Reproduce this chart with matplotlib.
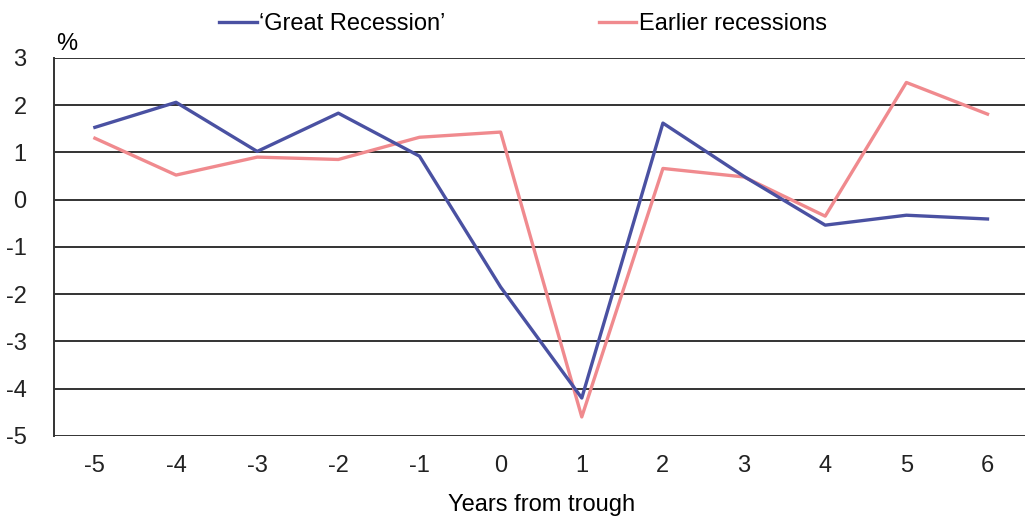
import matplotlib.pyplot as plt
import numpy as np

plt.rcParams['font.family'] = ['Liberation Sans', 'DejaVu Sans']
plt.rcParams['axes.unicode_minus'] = False

years = [-5, -4, -3, -2, -1, 0, 1, 2, 3, 4, 5, 6]
great = [1.53, 2.06, 1.02, 1.83, 0.92, -1.85, -4.2, 1.62, 0.49, -0.54, -0.33, -0.41]
earlier = [1.3, 0.52, 0.9, 0.85, 1.32, 1.43, -4.6, 0.66, 0.48, -0.35, 2.48, 1.81]

fig = plt.figure(figsize=(10.25, 5.17), dpi=100)
ax = fig.add_axes([0.053, 0.157, 0.95, 0.731])

x = np.arange(len(years))
for yv in range(-5, 4):
    ax.axhline(yv, color='#333333', lw=1.4, zorder=1)
ax.plot(x, great, color='#4a51a2', lw=2.4, label='\u2018Great Recession\u2019', zorder=3)
ax.plot(x, earlier, color='#f08a8e', lw=2.4, label='Earlier recessions', zorder=2)

ax.set_xlim(-0.5, len(years) - 0.5)
ax.set_ylim(-5, 3)
ax.set_yticks(range(-5, 4))
ax.set_xticks(x)
ax.set_xticklabels([str(v) for v in years])
ax.tick_params(length=0, labelsize=17, colors='#222222')
ax.tick_params(axis='y', pad=20)
ax.tick_params(axis='x', pad=14)
for s in ['top', 'right', 'bottom']:
    ax.spines[s].set_visible(False)
ax.spines['left'].set_color('#333333')
ax.spines['left'].set_linewidth(1.4)

ax.text(0.002, 1.008, '%', transform=ax.transAxes, fontsize=17, ha='left', va='bottom')
ax.set_xlabel('Years from trough', fontsize=17, labelpad=12)

fig.legend(loc='upper center', bbox_to_anchor=(0.51, 1.015), ncol=2, frameon=False,
           fontsize=17, handlelength=1.6, handletextpad=0.1, columnspacing=6.5)

fig.savefig('out.png', dpi=100)
